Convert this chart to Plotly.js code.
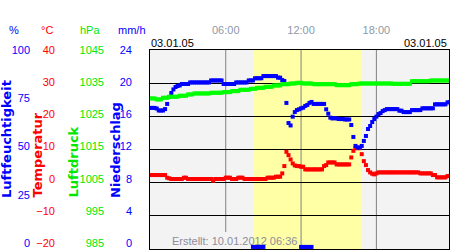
<!DOCTYPE html>
<html><head><meta charset="utf-8">
<script src="https://cdn.plot.ly/plotly-3.0.1.min.js"></script>
<style>html,body{margin:0;padding:0;background:#fff}#chart{width:450px;height:250px}</style>
</head><body><div id="chart"></div>
<script>
// time of day in minutes (10-minute readings)
const minutes = [
0,10,20,30,40,50, 60,70,80,90,100,110, 120,130,140,150,160,170, 180,190,200,210,220,230,
240,250,260,270,280,290, 300,310,320,330,340,350, 360,370,380,390,400,410, 420,430,440,450,460,470,
480,490,500,510,520,530, 540,550,560,570,580,590, 600,610,620,630,640,650, 660,670,680,690,700,710,
720,730,740,750,760,770, 780,790,800,810,820,830, 840,850,860,870,880,890, 900,910,920,930,940,950,
960,970,980,990,1000,1010, 1020,1030,1040,1050,1060,1070, 1080,1090,1100,1110,1120,1130, 1140,1150,1160,1170,1180,1190,
1200,1210,1220,1230,1240,1250, 1260,1270,1280,1290,1300,1310, 1320,1330,1340,1350,1360,1370, 1380,1390,1400,1410,1420,1430];

// Luftfeuchtigkeit (%)
const humidity = [
70.9,70.9,70.9,70.6,69.6,69.6, 69.6,70.3,72.9,76.4,78.4,80.2, 81.4,81.9,82.2,82.9,82.9,82.9, 82.9,83.7,83.7,83.7,83.7,83.7,
83.7,83.7,83.7,83.7,83.7,84.7, 84.7,84.7,84.7,84.7,84.7,82.9, 82.9,82.9,82.9,82.9,82.9,83.7, 83.7,83.7,83.7,83.7,83.7,84.7,
84.7,84.7,85.8,85.8,85.8,85.8, 86.9,86.9,86.9,86.9,86.9,86.9, 86.9,86.1,86.1,84.9,84.4,73.4, 63.3,62.1,66.5,68.8,69.8,70.2,
70.7,71.0,71.9,72.4,73.4,73.9, 72.9,72.9,72.9,72.9,72.9,72.9, 70.2,68.0,66.0,65.6,65.8,65.6, 65.3,65.3,65.3,65.1,65.1,65.1,
62.3,56.3,51.8,51.0,51.0,51.8, 54.3,56.8,60.3,61.8,63.8,65.3, 66.5,67.8,68.3,69.3,69.8,70.3, 70.3,70.3,70.3,70.3,70.3,69.5,
69.5,68.8,68.8,68.8,68.8,69.8, 69.8,69.8,69.8,69.8,70.7,70.7, 70.7,70.7,70.7,70.7,72.7,72.7, 72.7,72.7,72.7,72.7,73.7,73.7];

// Temperatur (°C)
const temperature = [
2.3,2.3,2.3,2.3,2.3,2.3, 2.3,2.3,1.5,1.3,1.1,1.1, 1.1,1.1,1.1,1.1,1.5,1.5, 1.1,1.1,1.1,1.1,1.1,1.1,
1.1,1.1,1.1,1.1,1.1,1.1, 0.6,1.1,1.1,1.1,1.1,1.1, 1.5,1.5,1.5,1.1,1.1,1.1, 1.5,1.5,1.5,1.1,1.1,1.1,
1.1,1.1,1.1,1.1,1.1,1.1, 1.1,1.1,1.5,1.5,1.5,1.5, 1.8,1.8,1.8,2.8,5.0,9.3, 8.3,7.0,5.8,5.2,5.0,5.0,
4.8,4.8,4.0,4.0,4.0,4.0, 4.0,4.0,4.0,4.0,4.0,5.0, 5.3,6.1,6.1,6.1,6.1,5.5, 5.5,5.5,5.5,5.5,5.5,5.5,
7.6,9.6,10.4,10.4,10.4,8.6, 6.5,5.3,3.8,3.1,2.7,2.5, 2.8,3.1,3.1,3.1,3.1,3.1, 3.1,3.1,3.1,3.1,3.1,3.1,
3.1,3.1,3.1,3.1,3.1,3.1, 3.1,3.1,3.1,2.8,2.8,2.8, 2.8,2.8,2.8,2.3,2.3,1.6, 1.6,1.6,1.6,1.6,2.0,2.0];

// Luftdruck (hPa)
const pressure = [
1030.4,1030.4,1030.4,1030.1,1030.1,1030.1, 1030.6,1030.6,1030.6,1030.9,1030.9,1030.9,
1030.9,1030.9,1031.2,1031.2,1031.2,1031.2, 1031.6,1031.6,1031.6,1031.9,1031.9,1031.9,
1031.9,1031.9,1031.9,1031.9,1031.9,1032.1, 1032.1,1032.1,1032.1,1032.1,1032.1,1032.3,
1032.3,1032.3,1032.3,1032.6,1032.6,1032.6, 1032.6,1033.0,1033.0,1033.0,1033.0,1033.0,
1033.3,1033.3,1033.3,1033.6,1033.6,1033.6, 1033.6,1033.9,1033.9,1033.9,1033.9,1034.3,
1034.3,1034.3,1034.3,1034.7,1034.7,1034.7, 1034.7,1034.9,1034.9,1034.9,1035.1,1035.1,
1035.1,1034.9,1034.9,1034.9,1034.9,1034.9, 1034.7,1034.7,1034.7,1034.7,1034.7,1034.7,
1034.7,1034.7,1034.7,1034.7,1034.7,1034.4, 1034.4,1034.4,1034.4,1034.4,1034.4,1034.4,
1034.7,1034.7,1034.7,1034.7,1034.9,1034.9, 1034.9,1034.9,1034.9,1034.9,1034.9,1034.9,
1034.9,1034.9,1034.9,1034.9,1034.9,1034.9, 1034.9,1034.9,1034.8,1034.8,1034.8,1034.8,
1034.8,1034.8,1034.8,1034.8,1034.8,1035.6, 1035.6,1035.6,1035.6,1035.6,1035.6,1035.6,
1035.6,1035.6,1035.8,1035.8,1035.8,1035.8, 1035.8,1035.8,1035.8,1035.8,1035.8,1035.8];

// Niederschlag (mm/h), only the readings with rain
const precipMinutes = [490,500,510,520,530,540, 720,730,740,750,760,770];
const precipitation = [0.25,0.25,0.25,0.25,0.25,0.25, 0.25,0.25,0.25,0.25,0.25,0.25];

const timeTickVals = [360, 720, 1080];
const timeTickText = ['06:00', '12:00', '18:00'];
const humidityTicks = [0, 25, 50, 75, 100];
const temperatureTicks = [-20, -10, 0, 10, 20, 30, 40];
const pressureTicks = [985, 995, 1005, 1015, 1025, 1035, 1045];
const precipTicks = [0, 4, 8, 12, 16, 20, 24];
const daylight = [492, 1007];
const dateLabel = '03.01.05';
const createdLabel = 'Erstellt: 10.01.2012 06:36';

const F = 'Liberation Sans, Arial, sans-serif';
const BLUE = '#0000ff', RED = '#ff0000', GREEN = '#00e800';
const W = 450, TOP = 50, BOT = 249, H = BOT - TOP;
const px = v => v / W;
const py = v => (BOT - v) / H;

function pts(x, y, color, axis) {
  return {type: 'scatter', mode: 'markers', x: x, y: y, yaxis: axis,
    marker: {symbol: 'square', size: 4, color: color, line: {width: 0}},
    hoverinfo: 'skip', showlegend: false};
}
const empty = axis => ({type: 'scatter', mode: 'markers', x: [], y: [], yaxis: axis, showlegend: false, hoverinfo: 'skip'});

const data = [
  pts(minutes, pressure, '#00ff00', 'y3'),
  pts(minutes, temperature, RED, 'y'),
  pts(minutes, humidity, BLUE, 'y2'),
  pts(precipMinutes, precipitation, BLUE, 'y4'),
  empty('y5'), empty('y6'), empty('y7'), empty('y8')
];

function labelAxis(pos, range, ticks, color) {
  return {overlaying: 'y', anchor: 'free', position: pos, side: 'left', range: range,
    tickmode: 'array', tickvals: ticks, ticks: '', ticklen: 0, showgrid: false, zeroline: false,
    showline: false, tickfont: {family: F, size: 11, color: color}, fixedrange: true};
}

const shapes = [
  {type: 'rect', xref: 'x', yref: 'paper', x0: daylight[0], x1: daylight[1], y0: 0, y1: 1,
   fillcolor: '#ffffa6', line: {width: 0}, layer: 'below'}
].concat(timeTickVals.map((v, i) => ({type: 'line', xref: 'x', yref: 'paper', x0: v, x1: v,
   y0: i === 0 ? py(232) : 0, y1: 1, line: {color: '#808080', width: 1}, layer: 'between'})));

function ann(text, x, y, xa, color, extra) {
  return Object.assign({text: text, x: x, y: y, xref: 'paper', yref: 'paper', xanchor: xa, yanchor: 'middle',
    showarrow: false, font: {family: F, size: 11, color: color}}, extra || {});
}
function vtitle(text, x, color) {
  return {text: '<b>' + text + '</b>', x: px(x), y: py(200), xref: 'paper', yref: 'paper', xanchor: 'center', yanchor: 'bottom',
    textangle: -90, showarrow: false, font: {family: 'DejaVu Sans', size: 13, color: color}};
}

const annotations = [
  ann('%', px(13.5), py(30), 'center', BLUE),
  ann('°C', px(46.5), py(30), 'center', RED),
  ann('hPa', px(89.5), py(30), 'center', GREEN),
  ann('mm/h', px(132), py(30), 'center', BLUE),
  ann(dateLabel, px(149), py(43), 'left', '#000'),
  ann(dateLabel, px(449), py(43), 'right', '#000'),
  ann(createdLabel, px(299), py(241), 'right', '#8c8c9c'),
  vtitle('Luftfeuchtigkeit', 6, BLUE),
  vtitle('Temperatur', 37, RED),
  vtitle('Luftdruck', 73, GREEN),
  vtitle('Niederschlag', 115, BLUE)
];

const layout = {
  width: 450, height: 250, margin: {l: 0, r: 0, t: TOP, b: 250 - BOT, pad: 0},
  paper_bgcolor: '#ffffff', plot_bgcolor: '#f3f3f3', showlegend: false,
  font: {family: F, size: 11},
  xaxis: {domain: [150 / W, 449 / W], range: [-2, 1427], side: 'top', tickmode: 'array',
    tickvals: timeTickVals, ticktext: timeTickText, ticks: '', ticklen: 0, ticklabelstandoff: 11,
    showgrid: false, zeroline: false, showline: true, mirror: true, linecolor: '#000', linewidth: 1,
    tickfont: {family: F, size: 11, color: '#8e99aa'}, fixedrange: true},
  yaxis: {range: [-20, 40], tick0: -20, dtick: 10, showgrid: true, gridcolor: '#000', gridwidth: 1,
    showticklabels: false, ticks: '', zeroline: false, showline: true, mirror: true, linecolor: '#000', linewidth: 1,
    fixedrange: true},
  yaxis2: {overlaying: 'y', range: [0, 100], visible: false, fixedrange: true},
  yaxis3: {overlaying: 'y', range: [985, 1045], visible: false, fixedrange: true},
  yaxis4: {overlaying: 'y', range: [0, 24], visible: false, fixedrange: true},
  yaxis5: labelAxis(px(30), [-3.11, 100], humidityTicks, BLUE),
  yaxis6: labelAxis(px(55), [-21.87, 40], temperatureTicks, RED),
  yaxis7: labelAxis(px(104), [983.13, 1045], pressureTicks, GREEN),
  yaxis8: labelAxis(px(132), [-0.746, 24], precipTicks, BLUE),
  shapes: shapes,
  annotations: annotations
};

Plotly.newPlot('chart', data, layout, {staticPlot: true, displayModeBar: false});
</script>
</body></html>
